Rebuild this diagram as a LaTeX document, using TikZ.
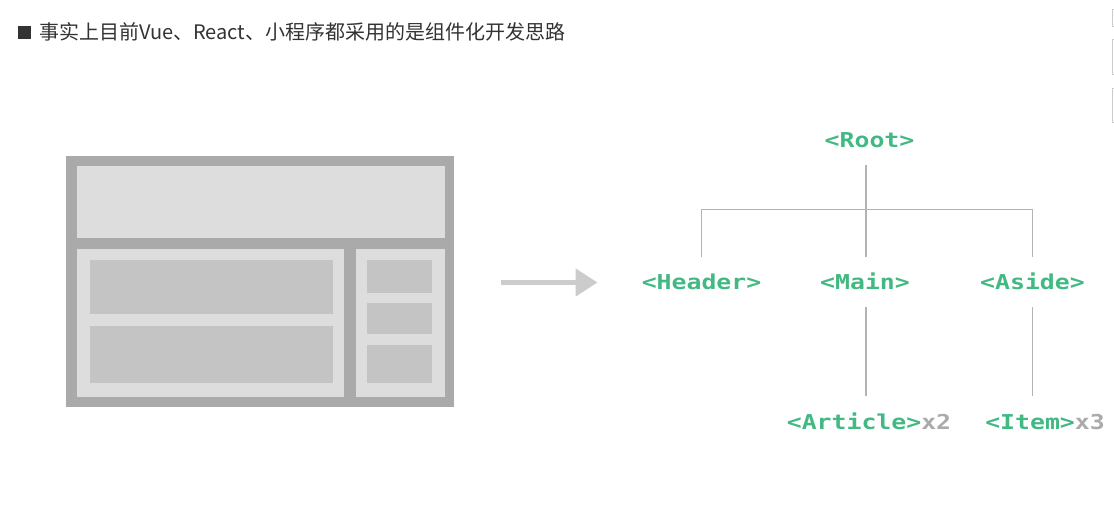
\documentclass[tikz,border=0pt]{standalone}
\usepackage{fontspec}
\newfontfamily\cjk{Noto Sans CJK SC}
\newfontfamily\tagfont[FakeStretch=1.21,BoldFont={DejaVu Sans Mono Bold}]{DejaVu Sans Mono}
\usetikzlibrary{arrows.meta}
\definecolor{vuegreen}{HTML}{42B983}
\definecolor{countgray}{HTML}{AAAAAA}
\definecolor{framegray}{HTML}{AAAAAA}
\definecolor{panelgray}{HTML}{DDDDDD}
\definecolor{slotgray}{HTML}{C4C4C4}
\definecolor{arrowgray}{HTML}{CCCCCC}
\definecolor{linegray}{HTML}{B3B3B3}
\definecolor{textdark}{HTML}{333333}

\begin{document}
\begin{tikzpicture}[x=1pt, y=-1pt,
        comp/.style={font={\tagfont\bfseries\fontsize{20.5}{24}\selectfont}, text=vuegreen,
                inner sep=0pt, text height=15pt, text depth=0pt, minimum height=50pt},
        treeline/.style={draw=linegray, line width=1.3pt},
        flow/.style={draw=arrowgray, line width=5pt, -{Triangle[length=22pt,width=27pt]}},
        edgemark/.style={draw=arrowgray, line width=1pt}]
        \useasboundingbox (0,0) rectangle (1114,532);
        \fill[white] (0,0) rectangle (1114,532);
        % heading
        \node (bullet) [fill=textdark, minimum size=12.7pt, inner sep=0pt] at (24.6,32.5) {};
        \node (title) [anchor=west, inner sep=0pt, text=textdark, font={\cjk\fontsize{20}{24}\selectfont}] at (39,32) {事实上目前Vue、React、小程序都采用的是组件化开发思路};
        \draw[edgemark] (1112.5,10) rectangle (1120,26.5);
        \draw[edgemark] (1112.5,40) rectangle (1120,74.3);
        \draw[edgemark] (1112.5,88.3) rectangle (1120,122.3);
        % page layout
        \fill[framegray] (66.3,156.3) rectangle (454.3,406.7);
        \fill[panelgray] (77.3,166) rectangle (445,237.7);
        \fill[panelgray] (77.3,249) rectangle (344.3,397.3);
        \fill[panelgray] (355.7,249) rectangle (445,397.3);
        \fill[slotgray] (90,260) rectangle (333,314.3);
        \fill[slotgray] (90,325.7) rectangle (333,383);
        \fill[slotgray] (366.7,260) rectangle (432,293.3);
        \fill[slotgray] (366.7,303) rectangle (432,333.7);
        \fill[slotgray] (366.7,345) rectangle (432,383);
        \coordinate (tail) at (501,282.5);
        \coordinate (tip) at (597.5,282.5);
        \draw[flow] (tail) -- (tip);
        % component tree
        \node (root) [comp] at (869.5,140) {<Root>};
        \node (header) [comp] at (701.5,282) {<Header>};
        \node (main) [comp] at (865,282) {<Main>};
        \node (aside) [comp] at (1032.5,282) {<Aside>};
        \node (article) [comp] at (869,421.5) {<Article>\textcolor{countgray}{x2}};
        \node (item) [comp] at (1045,421.5) {<Item>\textcolor{countgray}{x3}};
        \coordinate (hub) at (866,209.5);
        \draw[treeline] (root.south -| hub) -- (hub);
        \draw[treeline] (header.north) |- (hub) -| (aside.north);
        \draw[treeline] (hub) -- (hub |- main.north);
        \draw[treeline] (main.south -| hub) -- (hub |- article.north);
        \draw[treeline] (aside.south) -- (aside.south |- item.north);
\end{tikzpicture}
\end{document}
